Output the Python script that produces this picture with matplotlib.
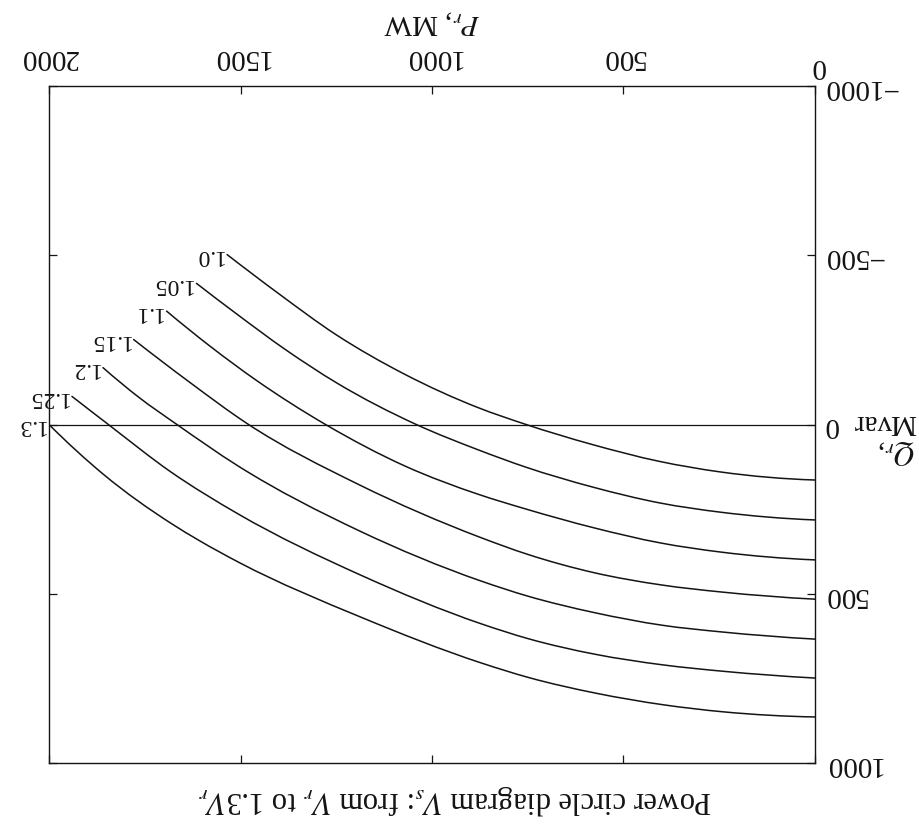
import matplotlib
matplotlib.use("Agg")
import matplotlib.pyplot as plt
from matplotlib.path import Path
from matplotlib.patches import PathPatch

plt.rcParams['font.family'] = ['Liberation Serif', 'DejaVu Serif']
plt.rcParams['mathtext.fontset'] = 'stix'

# ---- data (P_r in MW, Q_r in Mvar) ----
p_ticks = [0, 500, 1000, 1500, 2000]
q_ticks = [-1000, -500, 0, 500, 1000]

curve_labels = ['1.0', '1.05', '1.1', '1.15', '1.2', '1.25', '1.3']

p_10 = [0, 248, 406, 582, 757, 880, 1074, 1250, 1402, 1535]
q_10 = [164, 140, 109, 59, -1, -50, -150, -265, -388, -502]

p_105 = [0, 247, 404, 580, 755, 879, 1041, 1249, 1381, 1514, 1615]
q_105 = [282, 259, 232, 185, 126, 75, 0, -123, -220, -330, -417]

p_11 = [0, 245, 403, 578, 754, 877, 1070, 1278, 1458, 1578, 1693]
q_11 = [400, 377, 350, 305, 250, 207, 123, 0, -130, -230, -335]

p_115 = [0, 243, 401, 576, 752, 875, 1192, 1483, 1633, 1779]
q_115 = [516, 495, 474, 438, 383, 333, 177, -3, -125, -251]

p_12 = [0, 242, 399, 575, 750, 873, 1190, 1507, 1666, 1765, 1859]
q_12 = [634, 613, 593, 556, 507, 462, 314, 122, 0, -80, -168]

p_125 = [0, 240, 398, 573, 748, 871, 1188, 1505, 1682, 1845, 1940]
q_125 = [749, 729, 710, 679, 633, 589, 444, 265, 140, 0, -83]

p_13 = [0, 238, 396, 571, 746, 870, 1186, 1503, 1609, 1680, 1856, 2000]
q_13 = [864, 849, 828, 794, 748, 705, 569, 408, 342, 293, 149, 0]

curves_p = [p_10, p_105, p_11, p_115, p_12, p_125, p_13]
curves_q = [q_10, q_105, q_11, q_115, q_12, q_125, q_13]

caption = "Power circle diagram $V_s$: from $V_r$ to 1.3$V_r$"


def smooth_path(xs, ys):
    """Smooth cubic (Hermite -> Bezier) path through the read points."""
    n = len(xs)
    h = [xs[i + 1] - xs[i] for i in range(n - 1)]
    d = [(ys[i + 1] - ys[i]) / h[i] for i in range(n - 1)]
    m = [0.0] * n
    for i in range(1, n - 1):
        m[i] = (d[i - 1] * h[i] + d[i] * h[i - 1]) / (h[i - 1] + h[i])
    m[0] = 2 * d[0] - m[1]
    m[-1] = 2 * d[-1] - m[-2]
    verts = [(xs[0], ys[0])]
    codes = [Path.MOVETO]
    for i in range(n - 1):
        c1 = (xs[i] + h[i] / 3, ys[i] + m[i] * h[i] / 3)
        c2 = (xs[i + 1] - h[i] / 3, ys[i + 1] - m[i + 1] * h[i] / 3)
        verts += [c1, c2, (xs[i + 1], ys[i + 1])]
        codes += [Path.CURVE4] * 3
    return Path(verts, codes)


# ---- figure (the reference is printed upside down) ----
fig = plt.figure(figsize=(9.2, 8.29), dpi=100)
ax = fig.add_axes([49 / 920, 1 - 764 / 829, 766 / 920, 677 / 829])
ax.set_xlim(2000, 0)
ax.set_ylim(1000, -1000)

ink = '#141414'
for P, Q, lab in zip(curves_p, curves_q, curve_labels):
    ax.add_patch(PathPatch(smooth_path(P, Q), fill=False, edgecolor=ink,
                           lw=1.1, capstyle='round'))
    ax.annotate(lab, xy=(P[-1], Q[-1]), xytext=(-3, 0),
                textcoords='offset points', rotation=180,
                ha='right', va='center', fontsize=17, color=ink)

ax.axhline(0, color=ink, lw=0.9)

for s in ax.spines.values():
    s.set_linewidth(1.0)
    s.set_color(ink)

ax.xaxis.tick_top()
ax.yaxis.tick_right()
ax.set_xticks(p_ticks)
ax.set_xticklabels(['' if v == 0 else str(v) for v in p_ticks])
ax.set_yticks(q_ticks)
ax.tick_params(direction='in', length=6, width=0.9, color=ink,
               top=True, bottom=True, left=True, right=True,
               labeltop=True, labelbottom=False,
               labelright=True, labelleft=False,
               labelsize=21, labelcolor=ink)
ax.tick_params(axis='x', pad=12)
ax.tick_params(axis='y', pad=6)
for t in ax.get_xticklabels():
    t.set_rotation(180)
for t in ax.get_yticklabels():
    t.set_rotation(180)
    t.set_va('center')

# P = 0 label sits by the corner
ax.annotate('0', xy=(1, 1), xycoords='axes fraction', xytext=(2, 15),
            textcoords='offset points', rotation=180, ha='center',
            va='center', fontsize=21, color=ink)

ax.text(0.5, 1.096, "$P_r$, MW", transform=ax.transAxes, rotation=180,
        ha='center', va='center', fontsize=21, color=ink)
ax.text(1.091, 0.483, "$Q_r$,\nMvar", transform=ax.transAxes, rotation=180,
        ha='center', va='center', multialignment='left', fontsize=21,
        color=ink, linespacing=1.15)

fig.text(455 / 920, 1 - 800 / 829, caption, rotation=180, ha='center',
         va='center', fontsize=22, color=ink)

fig.savefig('out.png', dpi=100, facecolor='white')
